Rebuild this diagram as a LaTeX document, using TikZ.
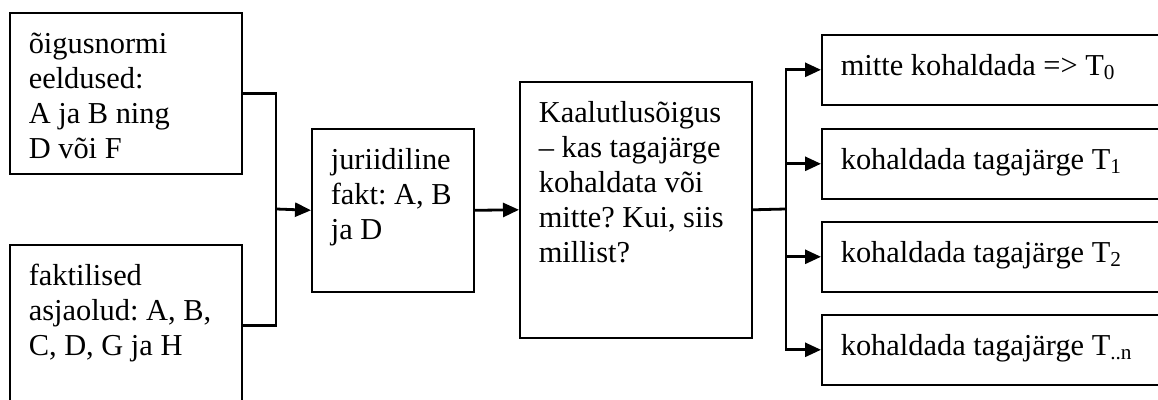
\documentclass[tikz,border=0pt]{standalone}
\usepackage{fontspec}
\setmainfont{Liberation Serif}
\frenchspacing
\usepackage{tikz}
\usetikzlibrary{arrows.meta}
\usetikzlibrary{positioning}
\tikzset{>={Triangle[length=8pt,width=7pt]}}
\tikzset{box/.style={rectangle, draw=black, line width=0.8pt, anchor=north west, inner xsep=9.5pt, inner ysep=8pt, font=\fontsize{15.2}{17.5}\selectfont}}
\tikzset{link/.style={draw=black, line width=1.4pt}}
\newcommand{\boxtxt}[3]{\parbox[t][#2][t]{#1}{\raggedright\strut #3}}

\begin{document}
\begin{tikzpicture}[x=0.5pt, y=-0.5pt]
\useasboundingbox (0,0) rectangle (1158,400);
\clip (0,0) rectangle (1158,400);
\node [box] (norm) at (9, 12) {\boxtxt{97pt}{64.5pt}{õigusnormi\\eeldused:\\A ja B ning\\D või F}};
\node [box] (fakt) at (9, 244) {\boxtxt{97pt}{65pt}{faktilised\\asjaolud: A, B,\\C, D, G ja H}};
\node [box] (jur) at (311, 128) {\boxtxt{62pt}{65.5pt}{juriidiline\\fakt: A, B\\ja D}};
\node [box] (kaal) at (519, 81) {\boxtxt{97pt}{112pt}{Kaalutlusõigus\\– kas tagajärge\\kohaldata või\\mitte? Kui, siis\\millist?}};
\node [box] (t0) at (821, 34) {\boxtxt{153.5pt}{19pt}{mitte kohaldada => T\textsubscript{0}}};
\node [box] (t1) at (821, 128) {\boxtxt{153.5pt}{19pt}{kohaldada tagajärge T\textsubscript{1}}};
\node [box] (t2) at (821, 221) {\boxtxt{153.5pt}{19pt}{kohaldada tagajärge T\textsubscript{2}}};
\node [box] (tn) at (821, 314) {\boxtxt{153.5pt}{19pt}{kohaldada tagajärge T\textsubscript{..n}}};
\coordinate (j1) at (276, 209);
\coordinate (j2) at (786, 209);
\draw [link] (norm.east) -| (j1);
\draw [link] (fakt.east) -| (j1);
\draw [link, ->] (j1) -- (jur.west);
\draw [link, ->] (jur.east) -- (kaal.west);
\draw [link] (kaal.east) -- (j2);
\foreach \t in {t0, t1, t2, tn}
  \draw [link, ->] (j2) |- (\t.west);
\end{tikzpicture}
\end{document}
